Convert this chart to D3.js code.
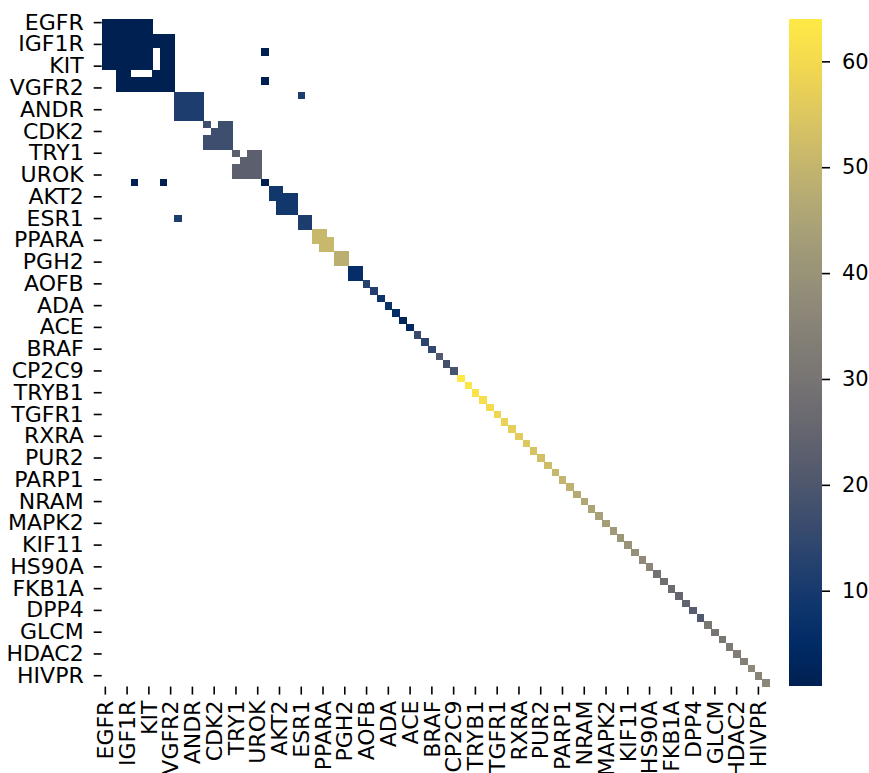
<!DOCTYPE html>
<html>
<head>
<meta charset="utf-8">
<script src="https://cdn.jsdelivr.net/npm/d3@7"></script>
<style>
  html, body { margin: 0; padding: 0; background: #fff; }
  svg { display: block; }
  text { font-family: "DejaVu Sans", sans-serif; fill: #000; }
</style>
</head>
<body>
<svg id="chart" width="869" height="773"></svg>
<script>
// Targets in clustered order (rows and columns of the matrix)
const targets = [
  "EGFR","FGFR1","ABL1","IGF1R","SRC","LCK","KIT","CSF1R","JAK2","VGFR2",
  "GCR","MCR","ANDR","PRGR","MK14","CDK2","MK10","MK01","TRY1","FA10",
  "THRB","UROK","FAK1","AKT1","AKT2","KPCB","ROCK1","ESR1","ESR2","PPARD",
  "PPARA","PPARG","PGH1","PGH2","TYSY","SAHH","AOFB","AA2AR","ADRB1","ADA",
  "ADA17","ADRB2","ACE","ALDR","AMPC","BRAF","BACE1","CAH2","CP2C9","CASP3",
  "COMT","TRYB1","CP3A4","CXCR4","TGFR1","DEF","DHI1","RXRA","DRD3","DYR",
  "PUR2","FABP4","FNTA","PARP1","FPPS","GRIA2","NRAM","GRIK1","HIVINT","MAPK2",
  "HIVRT","HMDH","KIF11","HXK4","INHA","HS90A","ITAL","KITH","FKB1A","LKHA4",
  "MET","DPP4","MMP13","NOS1","GLCM","PA2GA","PDE5A","HDAC2","PNPH","PTN1",
  "HIVPR","PYGM"
];

// Cluster value of each target (same order as targets)
const clusterValue = [
  1, 1, 1, 1, 1, 1, 1, 1, 1, 1,
  11, 11, 11, 11, 17, 17, 17, 17, 23, 23,
  23, 23, 1, 9, 9, 9, 9, 11, 11, 51,
  51, 51, 48, 48, 6, 6, 13, 12, 8, 7,
  5, 2, 4, 16, 14, 15, 21, 18, 19, 64,
  63, 62, 61, 60, 59, 58, 57, 56, 55, 54,
  53, 52, 51, 50, 49, 47, 46, 45, 44, 43,
  42, 41, 40, 39, 37, 36, 29, 28, 27, 25,
  24, 22, 21, 31, 30, 31, 32, 33, 34, 37,
  35, 36
];

// Off-diagonal pairs sharing a cluster: [row, [columns > row]]
const links = [
  [0, [1, 2, 3, 4, 5, 6]],
  [1, [2, 3, 4, 5, 6]],
  [2, [3, 4, 5, 6, 7, 8, 9]],
  [3, [4, 5, 6, 7, 8, 9]],
  [4, [5, 6, 8, 9, 22]],
  [5, [6, 8, 9]],
  [6, [8, 9]],
  [7, [8, 9]],
  [8, [9, 22]],
  [10, [11, 12, 13, 27]],
  [11, [12, 13]],
  [12, [13]],
  [14, [16, 17]],
  [15, [16, 17]],
  [16, [17]],
  [18, [20, 21]],
  [19, [20, 21]],
  [20, [21]],
  [23, [24]],
  [24, [25, 26]],
  [25, [26]],
  [27, [28]],
  [29, [30]],
  [30, [31]],
  [32, [33]],
  [34, [35]]
];

// Every third target carries a tick label
const tickTargets = targets.filter((d, i) => i % 3 === 0);
const colorTicks = [10, 20, 30, 40, 50, 60];
const colorDomain = [1, 64];

// Build the list of filled cells (symmetric matrix)
const cells = [];
targets.forEach((t, i) => cells.push({ r: i, c: i, v: clusterValue[i] }));
links.forEach(([r, cols]) => {
  cols.forEach(c => {
    cells.push({ r: r, c: c, v: clusterValue[r] });
    cells.push({ r: c, c: r, v: clusterValue[r] });
  });
});

const svg = d3.select("#chart");
const plotLeft = 101.7, plotTop = 19, plotSize = 667.6;
const fontSize = "22px";

const x = d3.scaleBand().domain(targets).range([plotLeft, plotLeft + plotSize]);
const y = d3.scaleBand().domain(targets).range([plotTop, plotTop + plotSize]);
const color = d3.scaleSequential(d3.interpolateCividis).domain(colorDomain);
const bw = x.bandwidth();

svg.append("g")
  .attr("shape-rendering", "crispEdges")
  .selectAll("rect")
  .data(cells)
  .join("rect")
  .attr("x", d => x(targets[d.c]))
  .attr("y", d => y(targets[d.r]))
  .attr("width", bw + 0.3)
  .attr("height", bw + 0.3)
  .attr("fill", d => color(d.v));

const tickLen = 8, tickPad = 10;

// Left axis
const gy = svg.append("g")
  .attr("transform", `translate(${plotLeft},0)`)
  .call(d3.axisLeft(y).tickValues(tickTargets).tickSize(tickLen).tickPadding(tickPad));
gy.select(".domain").remove();
gy.selectAll(".tick line").attr("stroke", "#000").attr("stroke-width", 1.6);
gy.selectAll(".tick text").style("font-size", fontSize).style("font-family", "DejaVu Sans");

// Bottom axis with vertical labels
const gx = svg.append("g")
  .attr("transform", `translate(0,${plotTop + plotSize})`)
  .call(d3.axisBottom(x).tickValues(tickTargets).tickSize(tickLen).tickPadding(tickPad));
gx.select(".domain").remove();
gx.selectAll(".tick line").attr("stroke", "#000").attr("stroke-width", 1.6);
gx.selectAll(".tick text")
  .style("font-size", fontSize)
  .style("font-family", "DejaVu Sans")
  .attr("transform", "rotate(-90)")
  .attr("text-anchor", "end")
  .attr("x", -(tickLen + 6))
  .attr("y", 0)
  .attr("dy", "0.35em");

// Colorbar
const cbX = 789, cbW = 33, cbTop = 19, cbBottom = 686;
const cScale = d3.scaleLinear().domain(colorDomain).range([cbBottom, cbTop]);
const defs = svg.append("defs");
const grad = defs.append("linearGradient")
  .attr("id", "cbgrad")
  .attr("x1", 0).attr("y1", 1).attr("x2", 0).attr("y2", 0);
d3.range(0, 1.0001, 0.02).forEach(t => {
  grad.append("stop")
    .attr("offset", t)
    .attr("stop-color", d3.interpolateCividis(t));
});
svg.append("rect")
  .attr("x", cbX).attr("y", cbTop)
  .attr("width", cbW).attr("height", cbBottom - cbTop)
  .attr("fill", "url(#cbgrad)");

const gc = svg.append("g")
  .attr("transform", `translate(${cbX + cbW},0)`)
  .call(d3.axisRight(cScale).tickValues(colorTicks).tickSize(tickLen).tickPadding(12));
gc.select(".domain").remove();
gc.selectAll(".tick line").attr("stroke", "#000").attr("stroke-width", 1.6);
gc.selectAll(".tick text").style("font-size", "21px").style("font-family", "DejaVu Sans");
</script>
</body>
</html>
